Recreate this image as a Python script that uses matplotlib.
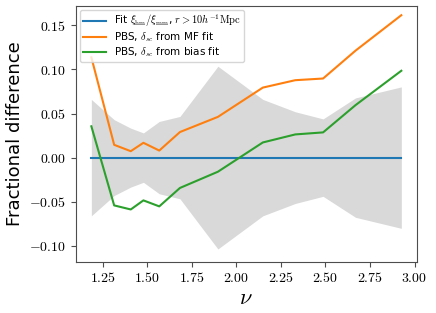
import matplotlib
matplotlib.use("Agg")
import matplotlib.pyplot as plt
from matplotlib.ticker import FuncFormatter
import numpy as np

plt.rcParams['mathtext.fontset'] = 'cm'

# values
nu = [1.187, 1.315, 1.408, 1.479, 1.568, 1.684, 1.897, 2.149, 2.331, 2.487, 2.669, 2.926]
diff_mf = [0.1137, 0.0145, 0.0073, 0.0168, 0.0080, 0.0290, 0.0462, 0.0794, 0.0878, 0.0897, 0.1213, 0.1615]
diff_bias = [0.0355, -0.0542, -0.0588, -0.0485, -0.0553, -0.0344, -0.0160, 0.0172, 0.0263, 0.0286, 0.0595, 0.0985]
sigma = [0.066, 0.043, 0.0334, 0.028, 0.041, 0.0467, 0.1036, 0.066, 0.052, 0.0439, 0.0677, 0.0802]

nu = np.array(nu)
sigma = np.array(sigma)

fig = plt.figure(figsize=(4.36, 3.13), dpi=100)
ax = fig.add_axes([0.174, 0.164, 0.782, 0.817])

ax.fill_between(nu, -sigma, sigma, color='0.85', lw=0)
ax.plot(nu, np.zeros_like(nu), color='tab:blue', lw=1.5,
        label=r'Fit $\xi_{\rm hm}/\xi_{\rm mm}$, $r>10h^{-1}{\rm Mpc}$')
ax.plot(nu, diff_mf, color='tab:orange', lw=1.5, label=r'PBS, $\delta_{sc}$ from MF fit')
ax.plot(nu, diff_bias, color='tab:green', lw=1.5, label=r'PBS, $\delta_{sc}$ from bias fit')

ax.set_ylim(-0.118, 0.172)
ax.set_xticks([1.25, 1.5, 1.75, 2.0, 2.25, 2.5, 2.75, 3.0])
ax.set_yticks([-0.10, -0.05, 0.0, 0.05, 0.10, 0.15])
ax.xaxis.set_major_formatter(FuncFormatter(lambda v, p: r'$%.2f$' % v))
ax.yaxis.set_major_formatter(FuncFormatter(lambda v, p: r'$%.2f$' % v))
ax.tick_params(labelsize=10, color='0.3')
for s in ax.spines.values():
    s.set_color('0.3')

ax.set_xlabel(r'$\nu$', fontsize=16, labelpad=2)
ax.set_ylabel('Fractional difference', fontsize=13)
ax.legend(loc='upper left', fontsize=7.5, handlelength=2.2, borderaxespad=0.35,
          labelspacing=0.1, borderpad=0.3)

fig.savefig('out.png', dpi=100)
